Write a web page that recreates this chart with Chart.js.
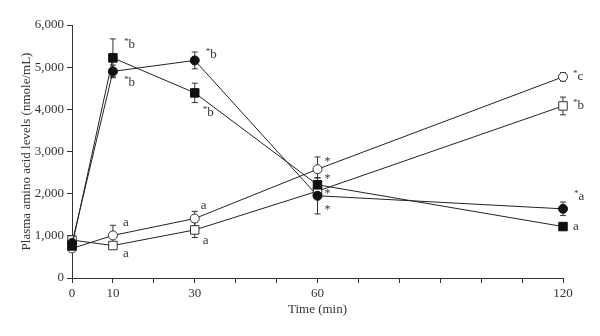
<!DOCTYPE html>
<html>
<head>
<meta charset="utf-8">
<script src="https://cdn.jsdelivr.net/npm/chart.js@4"></script>
<style>
  html, body { margin: 0; padding: 0; background: #fff; }
  #wrap { width: 600px; height: 336px; }
</style>
</head>
<body>
<div id="wrap"><canvas id="chart" width="600" height="336"></canvas></div>
<script>
// time points (min)
const times = [0, 10, 30, 60, 120];
const xLabelTicks = [0, 10, 30, 60, 120];

// plasma amino acid levels (nmole/mL)
const filledCircle = [830, 4900, 5160, 1950, 1640];
const filledSquare = [760, 5220, 4390, 2210, 1220];
const openCircle = [700, 1010, 1410, 2580, 4770];
const openSquare = [900, 770, 1140, 2060, 4080];

// standard errors
const filledCircleErr = [0, 150, 200, 430, 160];
const filledSquareErr = [0, 450, 230, 160, 0];
const openCircleErr = [0, 240, 170, 290, 100];
const openSquareErr = [0, 0, 180, 0, 210];

// significance labels per point
const filledCircleTags = ['', '*b', '*b', '*', '*a'];
const filledSquareTags = ['', '*b', '*b', '*', 'a'];
const openCircleTags = ['', 'a', 'a', '*', '*c'];
const openSquareTags = ['', 'a', 'a', '*', '*b'];

const ink = '#333';
const serif = "'Liberation Serif', 'DejaVu Serif', serif";

function pts(vals){
  return times.map((t, i) => ({x: t, y: vals[i]}));
}

// where each tag sits relative to its point, in px
const tagOffsets = [
  [null, [11, 11], [11, -6], [7, 12], [11, -12]],
  [null, [11, -13], [8, 20], [7, -8], [10, 0]],
  [null, [10, -13], [6, -13], [7, -9], [10, 0]],
  [null, [10, 8], [8, 11], [7, 1], [10, 0]]
];

const errorBars = {
  id: 'errorBars',
  beforeDatasetsDraw(chart){
    const ctx = chart.ctx;
    const ys = chart.scales.y;
    ctx.save();
    ctx.strokeStyle = ink;
    ctx.lineWidth = 1;
    chart.data.datasets.forEach((ds, di) => {
      const meta = chart.getDatasetMeta(di);
      ds.err.forEach((e, i) => {
        if (!e) return;
        const p = meta.data[i];
        const top = ys.getPixelForValue(ds.data[i].y + e);
        const bot = ys.getPixelForValue(ds.data[i].y - e);
        ctx.beginPath();
        ctx.moveTo(p.x, top); ctx.lineTo(p.x, bot);
        ctx.moveTo(p.x - 3, top); ctx.lineTo(p.x + 3, top);
        ctx.moveTo(p.x - 3, bot); ctx.lineTo(p.x + 3, bot);
        ctx.stroke();
      });
    });
    ctx.restore();
  }
};

const tagLabels = {
  id: 'tagLabels',
  afterDatasetsDraw(chart){
    const ctx = chart.ctx;
    ctx.save();
    ctx.fillStyle = ink;
    ctx.textBaseline = 'middle';
    ctx.textAlign = 'left';
    chart.data.datasets.forEach((ds, di) => {
      const meta = chart.getDatasetMeta(di);
      ds.tags.forEach((tag, i) => {
        if (!tag) return;
        const p = meta.data[i];
        const off = tagOffsets[di][i];
        let x = p.x + off[0];
        const y = p.y + off[1];
        if (tag === '*') {
          ctx.font = '12px ' + serif;
          ctx.fillText('*', x, y + 2);
          return;
        }
        let rest = tag;
        if (tag[0] === '*') {
          ctx.font = '9px ' + serif;
          ctx.fillText('*', x, y - 3);
          x += ctx.measureText('*').width;
          rest = tag.slice(1);
        }
        ctx.font = '13px ' + serif;
        ctx.fillText(rest, x, y);
      });
    });
    ctx.restore();
  }
};

function series(label, vals, err, tags, style, filled, radius){
  return {
    label: label,
    data: pts(vals),
    err: err,
    tags: tags,
    clip: false,
    borderColor: '#222',
    borderWidth: 1,
    backgroundColor: filled ? '#111' : '#fff',
    pointStyle: style,
    pointRadius: radius,
    pointHoverRadius: radius,
    pointBorderColor: filled ? '#111' : ink,
    pointBackgroundColor: filled ? '#111' : '#fff',
    pointBorderWidth: 1,
    fill: false,
    tension: 0
  };
}

new Chart(document.getElementById('chart'), {
  type: 'line',
  data: {
    datasets: [
      series('Filled circle', filledCircle, filledCircleErr, filledCircleTags, 'circle', true, 4.5),
      series('Filled square', filledSquare, filledSquareErr, filledSquareTags, 'rect', true, 6),
      series('Open circle', openCircle, openCircleErr, openCircleTags, 'circle', false, 4.5),
      series('Open square', openSquare, openSquareErr, openSquareTags, 'rect', false, 6)
    ]
  },
  options: {
    responsive: false,
    animation: false,
    events: [],
    layout: { padding: { top: 25, right: 37, left: 0, bottom: 0 } },
    plugins: {
      legend: { display: false },
      tooltip: { enabled: false }
    },
    scales: {
      x: {
        type: 'linear',
        min: 0,
        max: 120,
        afterFit(scale){ scale.height = 58; },
        border: { display: true, color: ink, width: 1 },
        grid: { drawOnChartArea: false, drawTicks: true, tickLength: 5, color: ink },
        ticks: {
          stepSize: 10,
          autoSkip: false,
          maxRotation: 0,
          color: ink,
          padding: 3,
          font: { family: serif, size: 13 },
          callback: v => xLabelTicks.includes(v) ? String(v) : ''
        },
        title: {
          display: true,
          text: 'Time (min)',
          color: ink,
          font: { family: serif, size: 13 },
          padding: { top: 0, bottom: 19 }
        }
      },
      y: {
        min: 0,
        max: 6000,
        afterFit(scale){ scale.width = 72; },
        border: { display: true, color: ink, width: 1 },
        grid: { drawOnChartArea: false, drawTicks: true, tickLength: 5, color: ink },
        ticks: {
          stepSize: 1000,
          color: ink,
          padding: 3,
          font: { family: serif, size: 13 },
          callback: v => v.toLocaleString('en-US')
        },
        title: {
          display: true,
          text: 'Plasma amino acid levels (nmole/mL)',
          color: ink,
          font: { family: serif, size: 13 },
          padding: { top: 19, bottom: 0 }
        }
      }
    }
  },
  plugins: [errorBars, tagLabels]
});
</script>
</body>
</html>
